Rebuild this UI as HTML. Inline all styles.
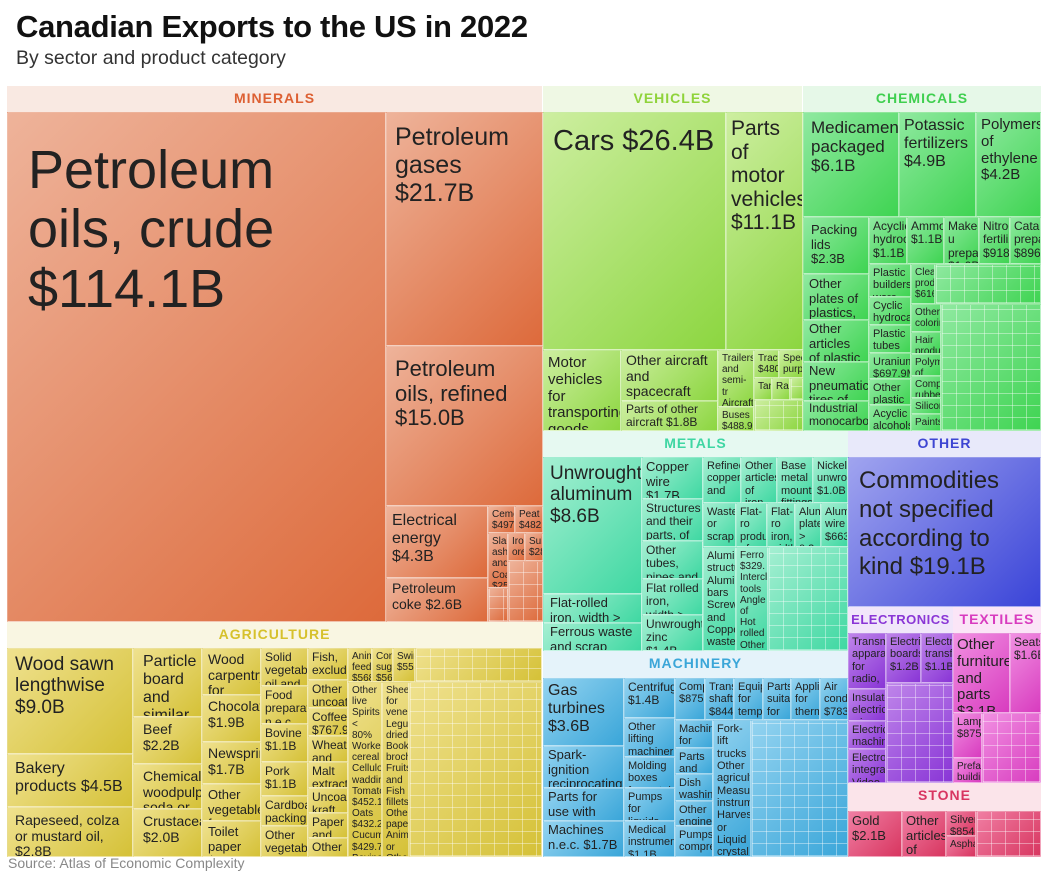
<!DOCTYPE html>
<html><head><meta charset="utf-8"><style>
body{margin:0;width:1046px;height:865px;overflow:hidden;background:#fff;font-family:"Liberation Sans",sans-serif;position:relative}
.c{position:absolute;box-sizing:border-box;border:1px solid rgba(255,255,255,.4);overflow:hidden;padding:5px 7px;line-height:1.12;color:#222;font-size:14px}
.h{position:absolute;box-sizing:border-box;text-align:center;font-weight:bold;font-size:14px;letter-spacing:1px;line-height:25px}
.g{position:absolute;box-sizing:border-box;overflow:hidden;border:1px solid rgba(255,255,255,.4)}
.s{font-size:12px;padding:2px 3px}
.m{font-size:16px}
.mi{background:linear-gradient(135deg,#eeb39a,#dd6a3b)}
.ve{background:linear-gradient(135deg,#cdeea0,#8cd640)}
.ch{background:linear-gradient(135deg,#8fe9a0,#3fd452)}
.me{background:linear-gradient(135deg,#a5efd2,#3fd8a2)}
.ot{background:linear-gradient(135deg,#a0a4ef,#3a44d8)}
.el{background:linear-gradient(135deg,#bf85ea,#8935d6)}
.te{background:linear-gradient(135deg,#f190e2,#d83cbf)}
.st{background:linear-gradient(135deg,#f07ea3,#d83660)}
.ma{background:linear-gradient(135deg,#93d3f0,#3aa6d9)}
.ag{background:linear-gradient(135deg,#efe18e,#d5c137)}
.grid::after{content:"";position:absolute;left:0;top:0;right:0;bottom:0;background-image:repeating-linear-gradient(90deg,rgba(255,255,255,.4) 0 1px,transparent 1px 14px),repeating-linear-gradient(0deg,rgba(255,255,255,.4) 0 1px,transparent 1px 12px)}
</style></head><body>
<div style="position:absolute;left:16px;top:9px;font-size:31px;font-weight:bold;color:#111;letter-spacing:-0.3px">Canadian Exports to the US in 2022</div>
<div style="position:absolute;left:16px;top:47px;font-size:19.5px;color:#333">By sector and product category</div>

<!-- MINERALS -->
<div class="h" style="left:7px;top:86px;width:535px;height:26px;background:#f9e9e2;color:#dd6033">MINERALS</div>
<div class="c mi" style="left:7px;top:112px;width:379px;height:510px;font-size:54px;padding:28px 20px;line-height:1.1">Petroleum oils, crude $114.1B</div>
<div class="c mi" style="left:386px;top:112px;width:157px;height:234px;font-size:25px;padding:10px 8px">Petroleum gases $21.7B</div>
<div class="c mi" style="left:386px;top:346px;width:157px;height:160px;font-size:22px;padding:10px 8px">Petroleum oils, refined $15.0B</div>
<div class="c mi m" style="left:386px;top:506px;width:102px;height:72px;padding:5px 5px">Electrical energy $4.3B</div>
<div class="c mi" style="left:386px;top:578px;width:102px;height:44px;padding:2px 5px">Petroleum coke $2.6B</div>
<div class="c mi s" style="left:488px;top:506px;width:27px;height:27px;font-size:10px">Ceme $497.</div>
<div class="c mi s" style="left:515px;top:506px;width:28px;height:27px;font-size:10px">Peat $482.</div>
<div class="c mi s" style="left:488px;top:533px;width:20px;height:55px;font-size:10px">Slag, ash and Coal $255</div>
<div class="c mi s" style="left:508px;top:533px;width:17px;height:28px;font-size:10px">Iron ores</div>
<div class="c mi s" style="left:525px;top:533px;width:18px;height:28px;font-size:10px">Sulp $28</div>
<div class="g mi grid" style="left:508px;top:561px;width:35px;height:61px"></div>
<div class="g mi grid" style="left:488px;top:588px;width:20px;height:34px"></div>

<!-- AGRICULTURE -->
<div class="h" style="left:7px;top:622px;width:535px;height:26px;background:#f9f6e2;color:#d6c12c">AGRICULTURE</div>
<div class="c ag" style="left:7px;top:648px;width:126px;height:106px;font-size:19px">Wood sawn lengthwise $9.0B</div>
<div class="c ag m" style="left:7px;top:754px;width:126px;height:53px">Bakery products $4.5B</div>
<div class="c ag" style="left:7px;top:807px;width:126px;height:50px;font-size:14px">Rapeseed, colza or mustard oil, $2.8B</div>
<div class="c ag m" style="left:133px;top:648px;width:69px;height:69px;padding:4px 9px">Particle board and similar</div>
<div class="c ag" style="left:133px;top:717px;width:69px;height:47px;padding:4px 9px">Beef $2.2B</div>
<div class="c ag" style="left:133px;top:764px;width:69px;height:45px;padding:4px 9px">Chemical woodpulp, soda or</div>
<div class="c ag" style="left:133px;top:809px;width:69px;height:48px;padding:4px 9px">Crustaceans $2.0B</div>
<div class="c ag" style="left:202px;top:648px;width:59px;height:47px;padding:3px 5px">Wood carpentry for</div>
<div class="c ag" style="left:202px;top:695px;width:59px;height:47px;padding:3px 5px">Chocolate $1.9B</div>
<div class="c ag" style="left:202px;top:742px;width:59px;height:42px;padding:3px 5px">Newsprint $1.7B</div>
<div class="c ag" style="left:202px;top:784px;width:59px;height:37px;padding:3px 5px;font-size:13px">Other vegetables frozen</div>
<div class="c ag" style="left:202px;top:821px;width:59px;height:36px;padding:3px 5px;font-size:13px">Toilet paper $1.3B</div>
<div class="c ag s" style="left:261px;top:648px;width:47px;height:38px">Solid vegetable oil and</div>
<div class="c ag s" style="left:261px;top:686px;width:47px;height:38px">Food preparatio n.e.c.</div>
<div class="c ag s" style="left:261px;top:724px;width:47px;height:38px">Bovine $1.1B</div>
<div class="c ag s" style="left:261px;top:762px;width:47px;height:34px">Pork $1.1B</div>
<div class="c ag s" style="left:261px;top:796px;width:47px;height:30px">Cardboar packing</div>
<div class="c ag s" style="left:261px;top:826px;width:47px;height:31px">Other vegetable</div>
<div class="c ag s" style="left:308px;top:648px;width:40px;height:32px">Fish, excludin</div>
<div class="c ag s" style="left:308px;top:680px;width:40px;height:28px">Other uncoate</div>
<div class="c ag s" style="left:308px;top:708px;width:40px;height:28px">Coffee $767.9M</div>
<div class="c ag s" style="left:308px;top:736px;width:40px;height:26px">Wheat and</div>
<div class="c ag s" style="left:308px;top:762px;width:40px;height:26px">Malt extract</div>
<div class="c ag s" style="left:308px;top:788px;width:40px;height:25px">Uncoated kraft</div>
<div class="c ag s" style="left:308px;top:813px;width:40px;height:25px">Paper and</div>
<div class="c ag s" style="left:308px;top:838px;width:40px;height:19px">Other</div>
<div class="c ag s" style="left:348px;top:648px;width:24px;height:34px;font-size:10px">Anim feed $568</div>
<div class="c ag s" style="left:372px;top:648px;width:21px;height:34px;font-size:10px">Conf suga $565</div>
<div class="c ag s" style="left:393px;top:648px;width:22px;height:34px;font-size:10px">Swin $557</div>
<div class="g ag grid" style="left:415px;top:648px;width:127px;height:34px"></div>
<div class="c ag s" style="left:348px;top:682px;width:34px;height:175px;font-size:10px">Other live Spirits &lt; 80% Worked cereal Cellulos waddin Tomato $452.1 Oats $432.2 Cucum $429.7 Bovine, sheep</div>
<div class="c ag s" style="left:382px;top:682px;width:27px;height:175px;font-size:10px">Shee for vene Legum dried Books, brochu Fruits and Fish fillets Other paper Animal or Other Rape</div>
<div class="g ag grid" style="left:409px;top:682px;width:133px;height:175px"></div>

<!-- VEHICLES -->
<div class="h" style="left:543px;top:86px;width:259px;height:26px;background:#eff8e4;color:#8fd33a">VEHICLES</div>
<div class="c ve" style="left:543px;top:112px;width:183px;height:238px;font-size:29px;padding:12px 9px">Cars $26.4B</div>
<div class="c ve" style="left:726px;top:112px;width:77px;height:238px;font-size:21px;padding:4px 4px">Parts of motor vehicles $11.1B</div>
<div class="c ve" style="left:543px;top:350px;width:78px;height:81px;font-size:15px;padding:4px 4px">Motor vehicles for transporting goods</div>
<div class="c ve" style="left:621px;top:350px;width:97px;height:51px;font-size:14px;padding:2px 4px">Other aircraft and spacecraft</div>
<div class="c ve" style="left:621px;top:401px;width:97px;height:30px;font-size:12px;padding:1px 4px">Parts of other aircraft $1.8B</div>
<div class="c ve s" style="left:718px;top:350px;width:36px;height:57px;font-size:10px">Trailers and semi-tr Aircraft launchi</div>
<div class="c ve s" style="left:718px;top:407px;width:36px;height:24px;font-size:10px">Buses $488.9M</div>
<div class="c ve s" style="left:754px;top:350px;width:25px;height:28px;font-size:10px">Tract $480.</div>
<div class="c ve s" style="left:779px;top:350px;width:24px;height:28px;font-size:10px">Spec purpo</div>
<div class="c ve s" style="left:754px;top:378px;width:18px;height:22px;font-size:10px">Tank</div>
<div class="c ve s" style="left:772px;top:378px;width:18px;height:22px;font-size:10px">Railw</div>
<div class="g ve grid" style="left:790px;top:378px;width:13px;height:22px"></div>
<div class="g ve grid" style="left:754px;top:400px;width:49px;height:31px"></div>

<!-- CHEMICALS -->
<div class="h" style="left:803px;top:86px;width:238px;height:26px;background:#e6f8e8;color:#3fcf4f">CHEMICALS</div>
<div class="c ch" style="left:803px;top:112px;width:96px;height:105px;font-size:17px">Medicament packaged $6.1B</div>
<div class="c ch" style="left:899px;top:112px;width:77px;height:105px;font-size:16px;padding:4px 4px">Potassic fertilizers $4.9B</div>
<div class="c ch" style="left:976px;top:112px;width:65px;height:105px;font-size:15px;padding:4px 4px">Polymers of ethylene $4.2B</div>
<div class="c ch" style="left:803px;top:217px;width:66px;height:57px;font-size:13px">Packing lids $2.3B</div>
<div class="c ch" style="left:803px;top:274px;width:66px;height:46px;font-size:13px;padding:2px 5px">Other plates of plastics,</div>
<div class="c ch" style="left:803px;top:320px;width:66px;height:42px;font-size:13px;padding:1px 5px">Other articles of plastic</div>
<div class="c ch" style="left:803px;top:362px;width:66px;height:39px;font-size:13px;padding:1px 5px">New pneumatic tires of</div>
<div class="c ch" style="left:803px;top:401px;width:66px;height:30px;font-size:12px;padding:0 5px">Industrial monocarbox</div>
<div class="c ch s" style="left:869px;top:217px;width:38px;height:47px">Acyclic hydroc $1.1B</div>
<div class="c ch s" style="left:907px;top:217px;width:37px;height:47px">Ammo $1.1B</div>
<div class="c ch s" style="left:944px;top:217px;width:35px;height:47px">Make-u prepar $1.0B</div>
<div class="c ch s" style="left:979px;top:217px;width:31px;height:47px">Nitrog fertiliz $918.</div>
<div class="c ch s" style="left:1010px;top:217px;width:31px;height:47px">Cataly prepar $896.</div>
<div class="c ch s" style="left:869px;top:264px;width:42px;height:33px;font-size:11px">Plastic builders' ware</div>
<div class="c ch s" style="left:869px;top:297px;width:42px;height:28px;font-size:11px">Cyclic hydrocar</div>
<div class="c ch s" style="left:869px;top:325px;width:42px;height:28px;font-size:11px">Plastic tubes</div>
<div class="c ch s" style="left:869px;top:353px;width:42px;height:26px;font-size:11px">Uranium $697.9M</div>
<div class="c ch s" style="left:869px;top:379px;width:42px;height:26px;font-size:11px">Other plastic</div>
<div class="c ch s" style="left:869px;top:405px;width:42px;height:26px;font-size:11px">Acyclic alcohols</div>
<div class="c ch s" style="left:911px;top:264px;width:24px;height:40px;font-size:10px">Clear produ $616</div>
<div class="c ch s" style="left:911px;top:304px;width:30px;height:28px;font-size:10px">Other colorir</div>
<div class="c ch s" style="left:911px;top:332px;width:30px;height:22px;font-size:10px">Hair produ</div>
<div class="c ch s" style="left:911px;top:354px;width:30px;height:22px;font-size:10px">Polym of</div>
<div class="c ch s" style="left:911px;top:376px;width:30px;height:22px;font-size:10px">Compo rubber</div>
<div class="c ch s" style="left:911px;top:398px;width:30px;height:16px;font-size:10px">Silicon</div>
<div class="c ch s" style="left:911px;top:414px;width:30px;height:17px;font-size:10px">Paints</div>
<div class="g ch grid" style="left:935px;top:264px;width:106px;height:40px"></div>
<div class="g ch grid" style="left:941px;top:304px;width:100px;height:127px"></div>

<!-- METALS -->
<div class="h" style="left:543px;top:431px;width:305px;height:26px;background:#e6f9f1;color:#3fd6a3">METALS</div>
<div class="c me" style="left:543px;top:457px;width:99px;height:137px;font-size:19px;padding:5px 6px">Unwrought aluminum $8.6B</div>
<div class="c me" style="left:543px;top:594px;width:99px;height:29px;font-size:13px;padding:1px 6px">Flat-rolled iron, width &gt;</div>
<div class="c me" style="left:543px;top:623px;width:99px;height:28px;font-size:13px;padding:1px 6px">Ferrous waste and scrap</div>
<div class="c me" style="left:642px;top:457px;width:61px;height:42px;font-size:13px;padding:2px 3px">Copper wire $1.7B</div>
<div class="c me" style="left:642px;top:499px;width:61px;height:42px;font-size:12px;padding:2px 3px">Structures and their parts, of</div>
<div class="c me" style="left:642px;top:541px;width:61px;height:38px;font-size:12px;padding:2px 3px">Other tubes, pipes and</div>
<div class="c me" style="left:642px;top:579px;width:61px;height:36px;font-size:12px;padding:2px 3px">Flat rolled iron, width &gt; 600mm</div>
<div class="c me" style="left:642px;top:615px;width:61px;height:36px;font-size:12px;padding:2px 3px">Unwrought zinc $1.4B</div>
<div class="c me s" style="left:703px;top:457px;width:38px;height:46px;font-size:11px">Refined copper and</div>
<div class="c me s" style="left:741px;top:457px;width:36px;height:46px;font-size:11px">Other articles of iron</div>
<div class="c me s" style="left:777px;top:457px;width:36px;height:46px;font-size:11px">Base metal mount fittings</div>
<div class="c me s" style="left:813px;top:457px;width:35px;height:46px;font-size:11px">Nickel unwrou $1.0B</div>
<div class="c me s" style="left:703px;top:503px;width:33px;height:44px;font-size:11px">Waste or scrap,</div>
<div class="c me s" style="left:736px;top:503px;width:31px;height:44px;font-size:11px">Flat-ro produ of</div>
<div class="c me s" style="left:767px;top:503px;width:28px;height:44px;font-size:11px">Flat-ro iron, width</div>
<div class="c me s" style="left:795px;top:503px;width:26px;height:44px;font-size:11px">Alum plate &gt; 0.2</div>
<div class="c me s" style="left:821px;top:503px;width:27px;height:44px;font-size:11px">Alum wire $663</div>
<div class="c me s" style="left:703px;top:547px;width:33px;height:104px;font-size:11px">Alumi structu Alumi bars Screws and Copper waste Lead</div>
<div class="c me s" style="left:736px;top:547px;width:32px;height:104px;font-size:10px">Ferro $329. Intercl tools Angle of Hot rolled Other article Other bars</div>
<div class="g me grid" style="left:768px;top:547px;width:80px;height:104px"></div>

<!-- OTHER -->
<div class="h" style="left:848px;top:431px;width:193px;height:26px;background:#e8e9fa;color:#3d45d2">OTHER</div>
<div class="c ot" style="left:848px;top:457px;width:193px;height:150px;font-size:24px;padding:9px 10px;line-height:1.2">Commodities not specified according to kind $19.1B</div>

<!-- ELECTRONICS / TEXTILES -->
<div class="h" style="left:848px;top:607px;width:105px;height:26px;background:#f1e6fa;color:#8a36d6;font-size:13px;letter-spacing:.5px">ELECTRONICS</div>
<div class="h" style="left:953px;top:607px;width:88px;height:26px;background:#fbe5f7;color:#d83bbf">TEXTILES</div>
<div class="c el s" style="left:848px;top:633px;width:38px;height:56px;font-size:11px">Transm appara for radio,</div>
<div class="c el s" style="left:886px;top:633px;width:35px;height:50px;font-size:11px">Electri boards $1.2B</div>
<div class="c el s" style="left:921px;top:633px;width:32px;height:50px;font-size:11px">Electr transf $1.1B</div>
<div class="c el s" style="left:848px;top:689px;width:38px;height:32px;font-size:11px">Insulate electric wire</div>
<div class="c el s" style="left:848px;top:721px;width:38px;height:28px;font-size:11px">Electric machin</div>
<div class="c el s" style="left:848px;top:749px;width:38px;height:34px;font-size:11px">Electron integrat Video</div>
<div class="g el grid" style="left:886px;top:683px;width:67px;height:100px"></div>
<div class="c te m" style="left:953px;top:633px;width:57px;height:80px;font-size:15px;padding:3px 3px">Other furniture and parts $3.1B</div>
<div class="c te s" style="left:1010px;top:633px;width:31px;height:80px;font-size:12px">Seats $1.6B</div>
<div class="c te s" style="left:953px;top:713px;width:29px;height:45px;font-size:11px">Lamp $875.</div>
<div class="c te s" style="left:953px;top:758px;width:29px;height:25px;font-size:10px">Prefab buildin</div>
<div class="g te grid" style="left:982px;top:713px;width:59px;height:70px"></div>

<!-- STONE -->
<div class="h" style="left:848px;top:783px;width:193px;height:28px;background:#fbe4ea;color:#d83561">STONE</div>
<div class="c st" style="left:848px;top:811px;width:54px;height:46px;font-size:13px;padding:2px 3px">Gold $2.1B</div>
<div class="c st" style="left:902px;top:811px;width:44px;height:46px;font-size:13px;padding:2px 3px">Other articles of</div>
<div class="c st s" style="left:946px;top:811px;width:30px;height:25px;font-size:11px">Silver $854.</div>
<div class="c st s" style="left:946px;top:836px;width:30px;height:21px;font-size:10px">Asphal</div>
<div class="g st grid" style="left:976px;top:811px;width:65px;height:46px"></div>

<!-- MACHINERY -->
<div class="h" style="left:543px;top:651px;width:305px;height:27px;background:#e5f3fa;color:#3aa6d8">MACHINERY</div>
<div class="c ma m" style="left:543px;top:678px;width:81px;height:68px;padding:3px 4px">Gas turbines $3.6B</div>
<div class="c ma" style="left:543px;top:746px;width:81px;height:42px;font-size:13px;padding:1px 4px">Spark-ignition reciprocating internal</div>
<div class="c ma" style="left:543px;top:788px;width:81px;height:33px;font-size:13px;padding:1px 4px">Parts for use with hoists</div>
<div class="c ma" style="left:543px;top:821px;width:81px;height:36px;font-size:13px;padding:1px 4px">Machines n.e.c. $1.7B</div>
<div class="c ma s" style="left:624px;top:678px;width:51px;height:40px;font-size:12px">Centrifug $1.4B</div>
<div class="c ma s" style="left:624px;top:718px;width:51px;height:39px;font-size:11px">Other lifting machiner</div>
<div class="c ma s" style="left:624px;top:757px;width:51px;height:31px;font-size:11px">Molding boxes for metal</div>
<div class="c ma s" style="left:624px;top:788px;width:51px;height:33px;font-size:11px">Pumps for liquids</div>
<div class="c ma s" style="left:624px;top:821px;width:51px;height:36px;font-size:11px">Medical instrumen $1.1B</div>
<div class="c ma s" style="left:675px;top:678px;width:30px;height:42px;font-size:11px">Comp $875.</div>
<div class="c ma s" style="left:705px;top:678px;width:29px;height:42px;font-size:11px">Trans shafts $844.</div>
<div class="c ma s" style="left:734px;top:678px;width:29px;height:42px;font-size:11px">Equip for tempe</div>
<div class="c ma s" style="left:763px;top:678px;width:28px;height:42px;font-size:11px">Parts suitab for</div>
<div class="c ma s" style="left:791px;top:678px;width:29px;height:42px;font-size:11px">Applia for therm</div>
<div class="c ma s" style="left:820px;top:678px;width:28px;height:42px;font-size:11px">Air condi $783</div>
<div class="c ma s" style="left:675px;top:720px;width:38px;height:28px;font-size:11px">Machin for soil</div>
<div class="c ma s" style="left:675px;top:748px;width:38px;height:26px;font-size:11px">Parts and</div>
<div class="c ma s" style="left:675px;top:774px;width:38px;height:27px;font-size:11px">Dish washing</div>
<div class="c ma s" style="left:675px;top:801px;width:38px;height:25px;font-size:11px">Other engines</div>
<div class="c ma s" style="left:675px;top:826px;width:38px;height:31px;font-size:11px">Pumps, compre</div>
<div class="c ma s" style="left:713px;top:720px;width:38px;height:137px;font-size:11px">Fork-lift trucks Other agricultu Measurin instrume Harvesti or Liquid crystal Refrigera freezers</div>
<div class="g ma grid" style="left:751px;top:720px;width:97px;height:137px"></div>

<div style="position:absolute;left:8px;top:855px;font-size:14px;color:#888">Source: Atlas of Economic Complexity</div>
</body></html>
